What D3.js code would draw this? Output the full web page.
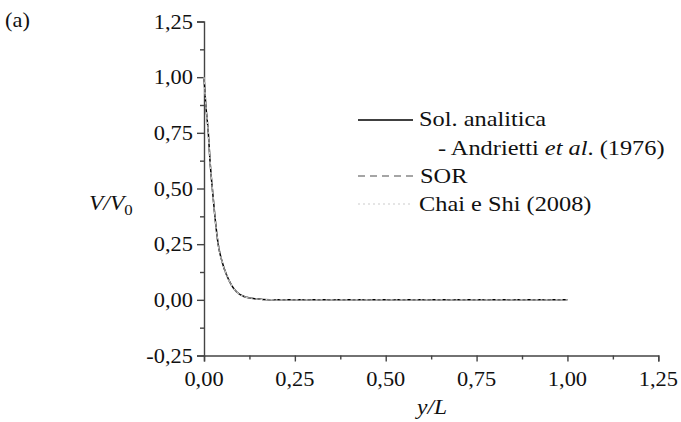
<!DOCTYPE html>
<html>
<head>
<meta charset="utf-8">
<script src="https://cdn.jsdelivr.net/npm/d3@7"></script>
<style>
  html, body { margin: 0; padding: 0; background: #fff; }
</style>
</head>
<body>
<div id="chart"></div>
<script>
// dados
const yL = [0, 0.005, 0.0119, 0.0165, 0.0229, 0.030, 0.039, 0.05, 0.0625, 0.076, 0.09, 0.11, 0.13, 0.16, 0.2, 0.25, 0.5, 0.75, 1.0];
const solAnalitica = [1.0, 0.875, 0.75, 0.625, 0.5, 0.375, 0.25, 0.17, 0.11, 0.065, 0.035, 0.015, 0.007, 0.002, 0, 0, 0, 0, 0];
const sor = [1.0, 0.875, 0.75, 0.625, 0.5, 0.375, 0.25, 0.17, 0.11, 0.065, 0.035, 0.015, 0.007, 0.002, 0, 0, 0, 0, 0];
const chaiShi = [1.0, 0.875, 0.75, 0.625, 0.5, 0.375, 0.25, 0.17, 0.11, 0.065, 0.035, 0.015, 0.007, 0.002, 0, 0, 0, 0, 0];

const xTicks = [0, 0.25, 0.5, 0.75, 1.0, 1.25];
const yTicks = [-0.25, 0, 0.25, 0.5, 0.75, 1.0, 1.25];
const xMinor = [0.125, 0.375, 0.625, 0.875, 1.125];
const yMinor = [-0.125, 0.125, 0.375, 0.625, 0.875, 1.125];

const width = 681, height = 422;
const fmt = d => d3.format('.2f')(d).replace('.', ',').replace('−', '-');
const SX = 1.12; // texto da figura original levemente esticado na horizontal

const svg = d3.select('#chart').append('svg')
    .attr('width', width)
    .attr('height', height);

const x = d3.scaleLinear().domain([0, 1.25]).range([204, 658.3]);
const y = d3.scaleLinear().domain([-0.25, 1.25]).range([355.5, 21.5]);

// texto com escala horizontal
function label(sel, tx, ty, anchor, size, sx = SX) {
    return sel.append('text')
        .attr('transform', `translate(${tx},${ty}) scale(${sx},1)`)
        .attr('text-anchor', anchor)
        .style('font-family', "'Liberation Serif'")
        .style('font-size', size + 'px')
        .style('fill', '#111');
}

// eixos
const axisColor = '#444';
const gx = svg.append('g').attr('transform', `translate(0,${y(-0.25)})`)
    .call(d3.axisBottom(x).tickValues(xTicks).tickSize(6).tickFormat(''));
const gxm = svg.append('g').attr('transform', `translate(0,${y(-0.25)})`)
    .call(d3.axisBottom(x).tickValues(xMinor).tickSize(4).tickFormat(''));
const gy = svg.append('g').attr('transform', `translate(${x(0)},0)`)
    .call(d3.axisLeft(y).tickValues(yTicks).tickSize(7).tickFormat(''));
const gym = svg.append('g').attr('transform', `translate(${x(0)},0)`)
    .call(d3.axisLeft(y).tickValues(yMinor).tickSize(4).tickFormat(''));
gxm.select('.domain').remove();
gym.select('.domain').remove();
svg.selectAll('.domain, .tick line')
    .attr('stroke', axisColor)
    .attr('stroke-width', 1.4);

// rótulos dos ticks
xTicks.forEach(t => {
    label(svg, x(t), 386, 'middle', 20).text(fmt(t));
});
yTicks.forEach(t => {
    label(svg, 193, y(t) + 7, 'end', 20).text(fmt(t));
});

// títulos dos eixos
const yt = label(svg, 89, 210, 'start', 21).style('font-style', 'italic');
yt.append('tspan').text('V/V');
yt.append('tspan').attr('dy', 5).style('font-size', '15px').style('font-style', 'normal').text('0');
label(svg, 432, 414, 'middle', 21).style('font-style', 'italic').text('y/L');
label(svg, 5, 27, 'start', 20).text('(a)');

// curvas
const series = [
    { name: 'sol', values: solAnalitica, color: '#000', width: 1.5, dash: null },
    { name: 'sor', values: sor, color: '#888', width: 1.4, dash: '7,5' },
    { name: 'chai', values: chaiShi, color: '#ccc', width: 1.2, dash: '2,3' }
];
const line = d3.line()
    .x(d => x(d[0]))
    .y(d => y(d[1]))
    .curve(d3.curveMonotoneX);

series.forEach(s => {
    svg.append('path')
        .datum(yL.map((v, i) => [v, s.values[i]]))
        .attr('d', line)
        .attr('fill', 'none')
        .attr('stroke', s.color)
        .attr('stroke-width', s.width)
        .attr('stroke-dasharray', s.dash);
});

// legenda
const legendRows = [
    { y: 120, s: series[0] },
    { y: 176, s: series[1] },
    { y: 204, s: series[2] }
];
legendRows.forEach(r => {
    svg.append('line')
        .attr('x1', 358).attr('x2', 413)
        .attr('y1', r.y).attr('y2', r.y)
        .attr('stroke', r.s.color)
        .attr('stroke-width', r.s.width)
        .attr('stroke-dasharray', r.s.dash);
});
const LSX = 1.16;
label(svg, 419, 126, 'start', 21, LSX).text('Sol. analitica');
const and = label(svg, 438, 155, 'start', 21, LSX);
and.append('tspan').text('- Andrietti ');
and.append('tspan').style('font-style', 'italic').text('et al');
and.append('tspan').text('. (1976)');
label(svg, 420, 183, 'start', 21, LSX).text('SOR');
label(svg, 419, 211, 'start', 21, LSX).text('Chai e Shi (2008)');
</script>
</body>
</html>
